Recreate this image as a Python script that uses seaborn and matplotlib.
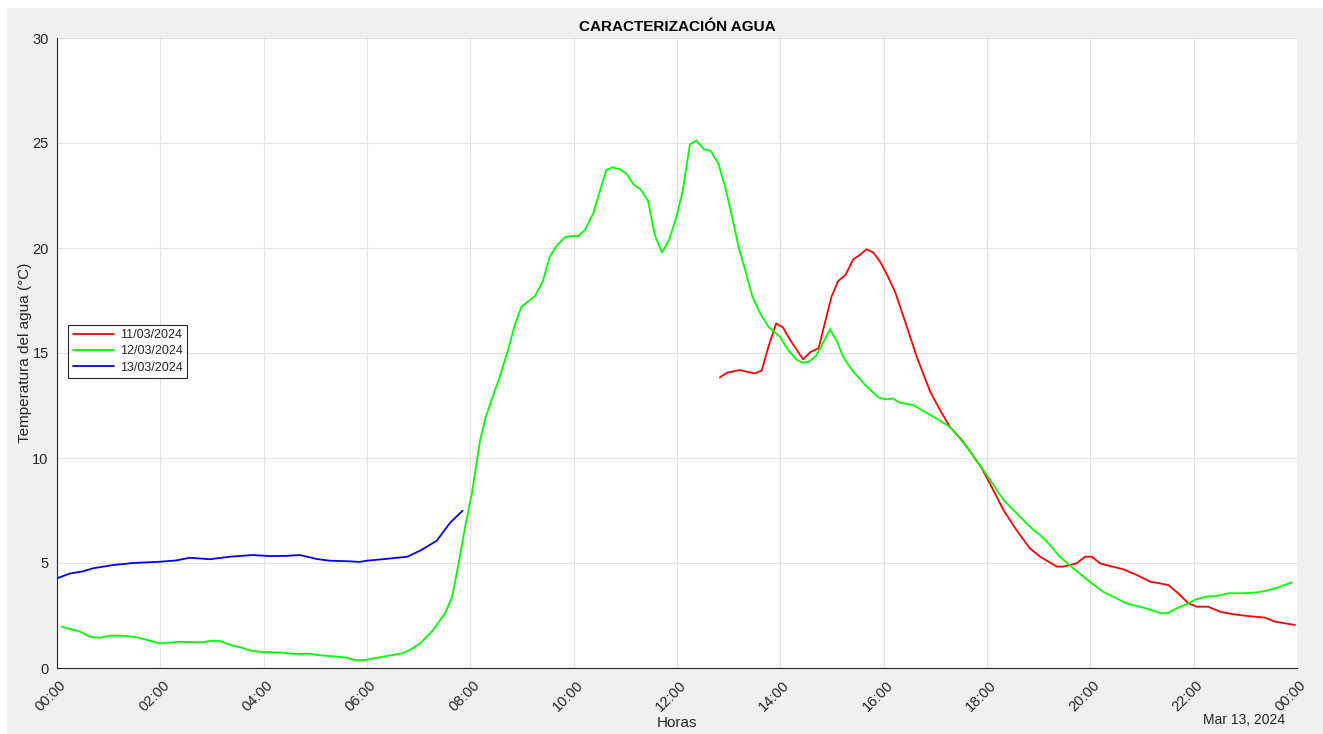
import pandas as pd
import matplotlib
matplotlib.use("Agg")
import matplotlib.pyplot as plt
import matplotlib.transforms as mtransforms
from matplotlib.patches import Rectangle
import seaborn as sns

# Temperatura del agua por día (horas desde las 00:00, °C)
hora_11 = [12.83, 12.97, 13.22, 13.35, 13.51, 13.64, 13.77, 13.92, 14.05, 14.19, 14.44, 14.59,
           14.74, 14.86, 14.99, 15.12, 15.26, 15.41, 15.54, 15.67, 15.80, 15.93, 16.06, 16.22,
           16.45, 16.64, 16.90, 17.09, 17.28, 17.54, 17.90, 18.12, 18.32, 18.57, 18.83, 19.03,
           19.35, 19.48, 19.73, 19.90, 20.03, 20.19, 20.38, 20.64, 20.90, 21.16, 21.35, 21.51,
           21.70, 21.90, 22.06, 22.28, 22.51, 22.77, 23.03, 23.38, 23.57, 23.96]
temp_11 = [13.84, 14.06, 14.19, 14.11, 14.03, 14.16, 15.30, 16.41, 16.22, 15.62, 14.70, 15.06,
           15.22, 16.41, 17.68, 18.43, 18.71, 19.46, 19.67, 19.94, 19.79, 19.35, 18.76, 17.92,
           16.25, 14.82, 13.16, 12.29, 11.49, 10.78, 9.51, 8.48, 7.52, 6.57, 5.70, 5.30,
           4.83, 4.83, 4.98, 5.30, 5.30, 4.98, 4.86, 4.70, 4.43, 4.11, 4.03, 3.95,
           3.56, 3.08, 2.92, 2.92, 2.68, 2.56, 2.48, 2.40, 2.21, 2.05]

hora_12 = [0.09, 0.45, 0.64, 0.83, 1.03, 1.28, 1.55, 1.80, 1.99, 2.38, 2.77, 3.02, 3.15, 3.41,
           3.58, 3.74, 3.99, 4.37, 4.57, 4.90, 5.03, 5.42, 5.61, 5.77, 5.96, 6.31, 6.68, 6.83,
           7.03, 7.28, 7.51, 7.65, 7.76, 7.90, 8.03, 8.19, 8.30, 8.57, 8.73, 8.86, 8.99, 9.25,
           9.40, 9.54, 9.67, 9.83, 9.96, 10.09, 10.22, 10.38, 10.63, 10.75, 10.90, 11.03, 11.17,
           11.30, 11.44, 11.57, 11.71, 11.85, 11.99, 12.11, 12.25, 12.38, 12.52, 12.65, 12.80,
           12.93, 13.06, 13.19, 13.32, 13.46, 13.61, 13.77, 13.99, 14.15, 14.32, 14.44, 14.56,
           14.70, 14.83, 14.96, 15.09, 15.22, 15.38, 15.64, 15.90, 16.03, 16.17, 16.32, 16.57,
           16.96, 17.28, 17.61, 17.93, 18.32, 18.64, 18.90, 19.03, 19.22, 19.41, 19.67, 19.99,
           20.25, 20.44, 20.70, 21.03, 21.22, 21.38, 21.51, 21.67, 21.90, 22.04, 22.25, 22.45,
           22.67, 22.96, 23.22, 23.41, 23.67, 23.90]
temp_12 = [1.97, 1.73, 1.49, 1.44, 1.54, 1.54, 1.46, 1.30, 1.17, 1.25, 1.22, 1.30, 1.29, 1.06,
           0.97, 0.83, 0.76, 0.73, 0.67, 0.68, 0.62, 0.54, 0.49, 0.38, 0.38, 0.54, 0.70, 0.86,
           1.17, 1.81, 2.60, 3.40, 4.82, 6.73, 8.32, 10.86, 11.97, 13.87, 15.14, 16.33, 17.20, 17.71,
           18.40, 19.59, 20.10, 20.51, 20.57, 20.57, 20.86, 21.65, 23.71, 23.84, 23.75, 23.51, 23.00,
           22.79, 22.24, 20.62, 19.78, 20.41, 21.49, 22.71, 24.94, 25.11, 24.70, 24.63, 24.03,
           22.92, 21.57, 20.06, 18.95, 17.68, 16.89, 16.25, 15.78, 15.14, 14.67, 14.54, 14.59,
           14.90, 15.49, 16.13, 15.59, 14.79, 14.22, 13.48, 12.89, 12.79, 12.84, 12.63, 12.52,
           11.97, 11.49, 10.54, 9.43, 8.00, 7.20, 6.57, 6.33, 5.86, 5.30, 4.75, 4.11,
           3.63, 3.40, 3.08, 2.87, 2.73, 2.60, 2.63, 2.84, 3.08, 3.27, 3.40, 3.43,
           3.56, 3.56, 3.60, 3.68, 3.87, 4.08]

hora_13 = [0.0, 0.25, 0.50, 0.70, 1.08, 1.47, 1.99, 2.30, 2.57, 2.96, 3.35, 3.79, 4.12, 4.45,
           4.70, 5.03, 5.28, 5.67, 5.85, 6.00, 6.39, 6.78, 7.03, 7.35, 7.61, 7.85]
temp_13 = [4.27, 4.50, 4.60, 4.75, 4.90, 5.00, 5.06, 5.12, 5.25, 5.18, 5.30, 5.38, 5.33, 5.34,
           5.38, 5.19, 5.11, 5.08, 5.05, 5.11, 5.20, 5.30, 5.59, 6.06, 6.92, 7.49]

fechas = ["11/03/2024", "12/03/2024", "13/03/2024"]
colores = ["#ff0000", "#00ff00", "#0000ff"]
ticks_h = list(range(0, 25, 2))
ticks_lab = ["%02d:00" % (h % 24) for h in ticks_h]

df = pd.concat([
    pd.DataFrame({"hora": hora_11, "temp": temp_11, "fecha": fechas[0]}),
    pd.DataFrame({"hora": hora_12, "temp": temp_12, "fecha": fechas[1]}),
    pd.DataFrame({"hora": hora_13, "temp": temp_13, "fecha": fechas[2]}),
])

sns.set_style("white")
plt.rcParams["font.family"] = ["Liberation Sans", "DejaVu Sans"]

fig = plt.figure(figsize=(13.23, 7.34), dpi=100, facecolor="white")
# fondo gris tipo MATLAB (con pequeño borde blanco arriba e izquierda)
fig.add_artist(Rectangle((7 / 1323, 0), 1, 1 - 8 / 734, transform=fig.transFigure,
                         facecolor="#f0f0f0", edgecolor="none", zorder=-5))
ax = fig.add_axes([57 / 1323, 66 / 734, 1240 / 1323, 630 / 734])
ax.set_facecolor("white")

sns.lineplot(data=df, x="hora", y="temp", hue="fecha", hue_order=fechas,
             palette=colores, estimator=None, linewidth=1.3, ax=ax)

ax.set_xlim(0, 24)
ax.set_ylim(0, 30)
ax.set_xticks(ticks_h)
ax.set_xticklabels(ticks_lab)
ax.set_yticks(range(0, 31, 5))
ax.grid(True, color="#e2e2e2", linewidth=0.8)
ax.set_axisbelow(True)

for s in ["top", "right"]:
    ax.spines[s].set_visible(False)
for s in ["left", "bottom"]:
    ax.spines[s].set_color("#262626")
    ax.spines[s].set_linewidth(0.8)

ax.tick_params(direction="in", length=8.5, width=0.8, color="#262626",
               labelsize=10.5, labelcolor="#262626")
ax.tick_params(axis="y", pad=6)
ax.tick_params(axis="x", pad=11)

offset = mtransforms.ScaledTranslation(7 / 100, 0, fig.dpi_scale_trans)
for lab in ax.get_xticklabels():
    lab.set_rotation(45)
    lab.set_ha("right")
    lab.set_va("center")
    lab.set_rotation_mode("anchor")
    lab.set_transform(lab.get_transform() + offset)

ax.set_title("CARACTERIZACIÓN AGUA", fontsize=11, fontweight="bold", pad=5, color="black")
ax.set_xlabel("Horas", fontsize=11, color="#262626")
ax.set_ylabel("Temperatura del agua (°C)", fontsize=11, color="#262626")
ax.xaxis.set_label_coords(0.5, -0.076)
ax.yaxis.set_label_coords(-0.020, 0.5)

ax.text(1285 / 1323, (734 - 720) / 734, "Mar 13, 2024", transform=fig.transFigure,
        ha="right", va="center", fontsize=10, color="#262626")

leg = ax.legend(loc="upper left", bbox_to_anchor=(0.009, 0.545), borderaxespad=0,
                fontsize=9, frameon=True, fancybox=False, handlelength=3.3,
                labelspacing=0.35, borderpad=0.35, handletextpad=0.5)
leg.get_frame().set_edgecolor("#262626")
leg.get_frame().set_linewidth(0.8)
leg.get_frame().set_facecolor("white")
leg.get_frame().set_alpha(1)

fig.savefig("out.png", dpi=100, facecolor=fig.get_facecolor())
